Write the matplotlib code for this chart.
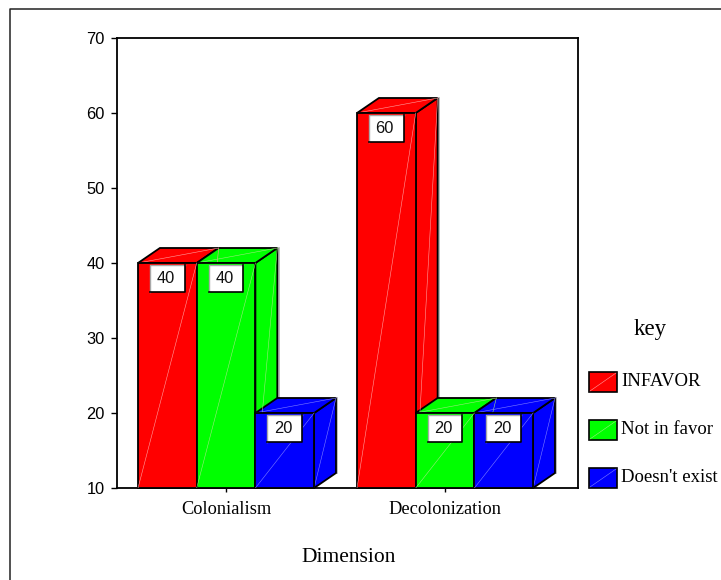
import matplotlib
matplotlib.use("Agg")
import matplotlib.pyplot as plt
from matplotlib.patches import Polygon, Rectangle
from matplotlib.lines import Line2D

categories = ["Colonialism", "Decolonization"]
series_names = ["INFAVOR", "Not in favor", "Doesn't exist"]
series_values = [
    [40, 60],
    [40, 20],
    [20, 20],
]
bar_colors = ["#ff0000", "#00ff00", "#0000ff"]
diag_colors = ["#ffa0a0", "#a0e880", "#8080ff"]
y_ticks = [10, 20, 30, 40, 50, 60, 70]

W, H = 721, 580
BAR_W = 0.268
DEPTH_X = 0.1
DEPTH_Y = 2.0
SERIF = "Liberation Serif"
SANS = "Liberation Sans"


def draw_bar(ax, x0, value, color, diag):
    x1 = x0 + BAR_W
    base = y_ticks[0]
    top = [(x0, value), (x0 + DEPTH_X, value + DEPTH_Y), (x1 + DEPTH_X, value + DEPTH_Y), (x1, value)]
    side = [(x1, base), (x1 + DEPTH_X, base + DEPTH_Y), (x1 + DEPTH_X, value + DEPTH_Y), (x1, value)]
    front = [(x0, base), (x1, base), (x1, value), (x0, value)]

    # grey shadow on the right edge of the side face
    ax.plot([x1 + DEPTH_X + 0.006] * 2, [base + DEPTH_Y, value + DEPTH_Y], color="#b0b0b0", lw=1.2, zorder=2)

    for pts, z in [(side, 3), (top, 3), (front, 4)]:
        ax.add_patch(Polygon(pts, closed=True, fc=color, ec="black", lw=1.3, zorder=z, clip_on=False))

    # thin highlight diagonals on each face
    ax.plot([x0, x1], [base, value], color=diag, lw=0.4, zorder=5)
    ax.plot([x1, x1 + DEPTH_X], [base, value + DEPTH_Y], color=diag, lw=0.4, zorder=3.5)
    ax.plot([x0, x1 + DEPTH_X], [value, value + DEPTH_Y], color=diag, lw=0.4, zorder=3.5)


def draw_label(ax, x0, value):
    cx = x0 + BAR_W / 2
    bw, bh = 0.158, 3.7
    left, top = cx - bw / 2, value - 0.2
    ax.add_patch(Rectangle((left, top - bh), bw, bh, fc="white", ec="none", zorder=6))
    ax.plot([left, left, left + bw], [top - bh, top, top], color="#a8a8a8", lw=1.0, zorder=7)
    ax.plot([left, left + bw, left + bw], [top - bh, top - bh, top], color="black", lw=1.2, zorder=7)
    ax.text(cx - 0.008, top - bh / 2, str(value), ha="center", va="center", fontsize=11.8,
            family=SANS, color="#111111", zorder=8)


fig = plt.figure(figsize=(W / 100, H / 100), dpi=100)
fig.patch.set_facecolor("white")

# outer frame, only left and top are inside the picture
fig.add_artist(Line2D([10 / W, 10 / W, 1], [0, 1 - 9 / H, 1 - 9 / H], color="#222222", lw=1.1))

ax = fig.add_axes([117 / W, 1 - 488 / H, (578 - 117) / W, (488 - 38) / H])
ax.set_xlim(-0.498, 1.607)
ax.set_ylim(y_ticks[0], y_ticks[-1])

for i, name in enumerate(categories):
    start = i - 1.5 * BAR_W
    for s, values in enumerate(series_values):
        x0 = start + s * BAR_W
        draw_bar(ax, x0, values[i], bar_colors[s], diag_colors[s])
        draw_label(ax, x0, values[i])

ax.set_xticks(range(len(categories)), labels=categories, family=SERIF, fontsize=13.2)
ax.set_yticks(y_ticks, labels=[str(t) for t in y_ticks], family=SANS, fontsize=11.8)
ax.tick_params(axis="x", length=3, width=1, pad=6)
ax.tick_params(axis="y", length=4, width=1, pad=5)
for spine in ax.spines.values():
    spine.set_linewidth(1.3)

fig.text(349 / W, 1 - 557 / H, "Dimension", family=SERIF, fontsize=15.5, ha="center", va="center")
fig.text(650 / W, 1 - 329 / H, "key", family=SERIF, fontsize=16.5, ha="center", va="center")

# legend is laid out by hand to sit outside the axes
for s, name in enumerate(series_names):
    y = 1 - (382 + s * 48) / H
    fig.add_artist(Rectangle((589 / W, y - 10 / H), 28 / W, 20 / H, transform=fig.transFigure,
                             fc=bar_colors[s], ec="black", lw=1.2))
    fig.add_artist(Line2D([590 / W, 616 / W], [y - 9 / H, y + 9 / H], color=diag_colors[s], lw=0.4))
    fig.text(621 / W, y, name, family=SERIF, fontsize=13.5, ha="left", va="center")

fig.savefig("out.png", dpi=100)
plt.close(fig)
